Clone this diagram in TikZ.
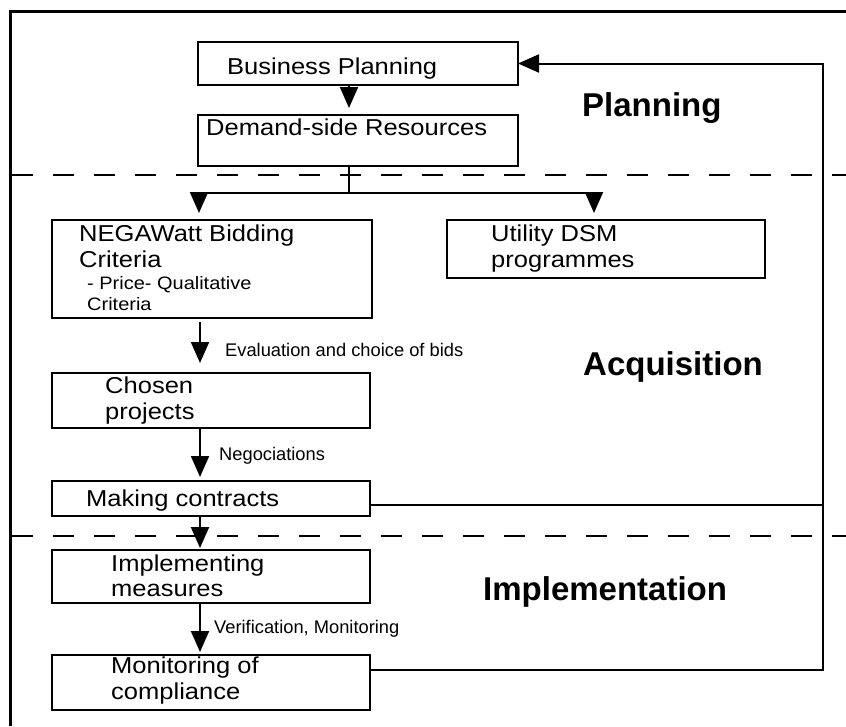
\documentclass[tikz,border=0pt]{standalone}
\usepackage{fontspec}
\setmainfont{Liberation Sans}
\newfontfamily\boxfont{Liberation Sans}[FakeStretch=1.11]
\usetikzlibrary{arrows.meta}

\begin{document}
\begin{tikzpicture}[
      x=1pt, y=-1pt,
      box/.style={rectangle, draw, line width=2.5pt, inner sep=0pt, outer sep=0pt},
      boxtxt/.style={anchor=base west, inner sep=0pt, font=\boxfont\fontsize{23}{27}\selectfont},
      subtxt/.style={anchor=base west, inner sep=0pt, font=\boxfont\fontsize{18}{21}\selectfont},
      lbl/.style={anchor=base west, inner sep=0pt, font=\fontsize{18.3}{22}\selectfont},
      phase/.style={anchor=base west, inner sep=0pt, font=\bfseries\fontsize{33}{38}\selectfont},
      arrow/.style={-{Triangle[length=21pt, width=18pt]}, line width=2pt},
      link/.style={line width=2pt},
      sep/.style={dash pattern=on 21pt off 20pt, line width=2.5pt}
    ]
    \useasboundingbox (0,0) rectangle (846,726);

    % frame and phase separators
    \draw[line width=3pt] (846,11) -- (10,11) -- (10,726);
    \draw[sep] (12,175) -- (846,175);
    \draw[sep] (12,536) -- (846,536);

    % boxes
    \node[box, minimum width=320, minimum height=43] (bp) at (358,63.5) {};
    \node[box, minimum width=320, minimum height=51] (ds) at (358,140.5) {};
    \node[box, minimum width=320, minimum height=98] (neg) at (212,269) {};
    \node[box, minimum width=318, minimum height=58] (util) at (606,249) {};
    \node[box, minimum width=318, minimum height=55] (chosen) at (211,400.5) {};
    \node[box, minimum width=318, minimum height=35] (mk) at (211,498.5) {};
    \node[box, minimum width=318, minimum height=53] (impl) at (211,576.5) {};
    \node[box, minimum width=318, minimum height=55] (mon) at (211,682.5) {};

    % box texts
    \node[boxtxt] (bpA) at (227,74) {Business Planning};
    \node[boxtxt] (dsA) at (206,135) {Demand-side Resources};
    \node[boxtxt] (negA) at (79,241) {NEGAWatt Bidding};
    \node[boxtxt] (negB) at (79,267) {Criteria};
    \node[subtxt] (negC) at (87,289) {- Price- Qualitative};
    \node[subtxt] (negD) at (87,310) {Criteria};
    \node[boxtxt] (utilA) at (491,241) {Utility DSM};
    \node[boxtxt] (utilB) at (491,267) {programmes};
    \node[boxtxt] (chosenA) at (105,393) {Chosen};
    \node[boxtxt] (chosenB) at (105,419) {projects};
    \node[boxtxt] (mkA) at (86,506) {Making contracts};
    \node[boxtxt] (implA) at (111,571) {Implementing};
    \node[boxtxt] (implB) at (111,596) {measures};
    \node[boxtxt] (monA) at (111,673) {Monitoring of};
    \node[boxtxt] (monB) at (111,699) {compliance};

    % phase names
    \node[phase] (plan) at (582,116) {Planning};
    \node[phase] (acq) at (583,375) {Acquisition};
    \node[phase] (impll) at (483,600) {Implementation};

    % flow
    \coordinate (trunk) at (200,0);
    \coordinate (split) at (349,193);
    \coordinate (ret) at (823,670);
    \draw[arrow, shorten >=7pt] ([xshift=-9pt]bp.south) -- ([xshift=-9pt]ds.north);
    \draw[link] ([xshift=-9pt]ds.south) -- (split);
    \draw[arrow, shorten >=7pt] (split) -| ([xshift=-13pt]neg.north);
    \draw[arrow, shorten >=7pt] (split) -| ([xshift=-12pt]util.north);
    \draw[arrow, shorten <=4pt, shorten >=10pt] (neg.south -| trunk) -- (chosen.north -| trunk);
    \draw[arrow, shorten >=4pt] (chosen.south -| trunk) -- (mk.north -| trunk);
    \draw[arrow, shorten >=2pt] (mk.south -| trunk) -- (impl.north -| trunk);
    \draw[arrow, shorten >=3pt] (impl.south -| trunk) -- (mon.north -| trunk);

    \node[lbl] (eval) at (225,356) {Evaluation and choice of bids};
    \node[lbl] (nego) at (219,460) {Negociations};
    \node[lbl] (verif) at (214,633) {Verification, Monitoring};

    % feedback to business planning
    \path ([yshift=-6.5pt]mk.east) coordinate (mkout);
    \draw[link] (mkout) -- (mkout -| ret);
    \draw[arrow] (mon.east |- ret) -- (ret) |- (bp.east);
  \end{tikzpicture}
\end{document}
